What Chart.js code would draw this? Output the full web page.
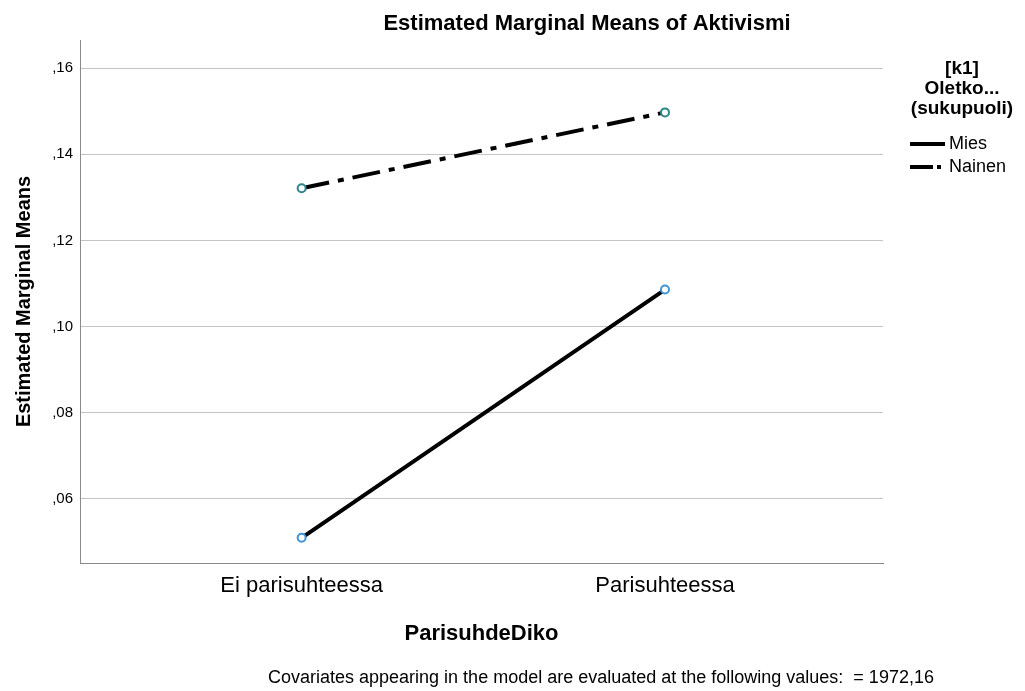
<!DOCTYPE html>
<html>
<head>
<meta charset="utf-8">
<script src="https://cdn.jsdelivr.net/npm/chart.js@4/dist/chart.umd.min.js"></script>
<style>
  html, body { margin: 0; padding: 0; background: #fff; }
  #wrap { width: 1025px; height: 691px; }
</style>
</head>
<body>
<div id="wrap"><canvas id="emmChart" width="1025" height="691"></canvas></div>
<script>
// Data
const categories = ['Ei parisuhteessa', 'Parisuhteessa'];
const seriesNames = ['Mies', 'Nainen'];
const miesValues = [0.0510, 0.1086];
const nainenValues = [0.1321, 0.1497];
const yTickValues = [0.06, 0.08, 0.10, 0.12, 0.14, 0.16];
const yTickLabels = [',06', ',08', ',10', ',12', ',14', ',16'];

const FONT = "'Liberation Sans', Arial, sans-serif";

const toPoints = vals => vals.map((v, i) => ({ x: i, y: v }));

// Title, legend and footnote drawn by hand to sit where SPSS puts them
const extras = {
    id: 'extras',
    afterDraw(chart) {
        const c = chart.ctx;
        c.save();
        c.fillStyle = '#000';
        c.textBaseline = 'middle';

        c.font = 'bold 22px ' + FONT;
        c.textAlign = 'center';
        c.fillText('Estimated Marginal Means of Aktivismi', 587, 24);

        c.font = 'bold 19px ' + FONT;
        ['[k1]', 'Oletko...', '(sukupuoli)'].forEach((t, i) => {
            c.fillText(t, 962, 69 + i * 20);
        });

        c.font = '18px ' + FONT;
        c.textAlign = 'left';
        chart.data.datasets.forEach((ds, i) => {
            const y = 144 + i * 23;
            c.strokeStyle = '#000';
            c.lineWidth = 4;
            if (ds.borderDash.length) {
                c.beginPath(); c.moveTo(910, y); c.lineTo(933, y); c.stroke();
                c.beginPath(); c.moveTo(937, y); c.lineTo(941, y); c.stroke();
            } else {
                c.beginPath(); c.moveTo(910, y); c.lineTo(945, y); c.stroke();
            }
            c.fillText(ds.label, 949, y);
        });

        c.font = '18px ' + FONT;
        c.fillText('Covariates appearing in the model are evaluated at the following values:  = 1972,16', 268, 678);
        c.restore();
    }
};

new Chart(document.getElementById('emmChart'), {
    type: 'line',
    data: {
        datasets: [
            {
                label: seriesNames[0],
                data: toPoints(miesValues),
                borderColor: '#000',
                borderWidth: 4,
                borderDash: [],
                pointRadius: 4,
                pointBorderWidth: 2,
                pointBorderColor: '#3f93d8',
                pointBackgroundColor: '#ffffff'
            },
            {
                label: seriesNames[1],
                data: toPoints(nainenValues),
                borderColor: '#000',
                borderWidth: 4,
                borderDash: [28, 9, 6, 9],
                pointRadius: 4,
                pointBorderWidth: 2,
                pointBorderColor: '#2f8589',
                pointBackgroundColor: '#ffffff'
            }
        ]
    },
    options: {
        responsive: false,
        animation: false,
        layout: { padding: { top: 40, right: 142, bottom: 0, left: 0 } },
        plugins: {
            legend: { display: false },
            tooltip: { enabled: false }
        },
        scales: {
            x: {
                type: 'linear',
                min: -0.61,
                max: 1.60,
                afterBuildTicks: s => { s.ticks = categories.map((_, i) => ({ value: i })); },
                afterFit: s => { s.height = 128; },
                grid: { display: false, drawTicks: false },
                border: { display: true, color: '#8a8a8a', width: 1 },
                ticks: {
                    padding: 10,
                    color: '#000',
                    font: { family: FONT, size: 22 },
                    callback: v => categories[v]
                },
                title: {
                    display: true,
                    text: 'ParisuhdeDiko',
                    color: '#000',
                    font: { family: FONT, size: 22, weight: 'bold' },
                    padding: { top: 0, bottom: 44 }
                }
            },
            y: {
                min: 0.04515,
                max: 0.1665,
                afterBuildTicks: s => { s.ticks = yTickValues.map(v => ({ value: v })); },
                afterFit: s => { s.width = 80; },
                grid: { color: '#c4c4c4', drawTicks: false },
                border: { display: true, color: '#8a8a8a', width: 1 },
                ticks: {
                    padding: 7,
                    color: '#000',
                    font: { family: FONT, size: 15 },
                    callback: v => yTickLabels[yTickValues.findIndex(t => Math.abs(t - v) < 1e-9)]
                },
                title: {
                    display: true,
                    text: 'Estimated Marginal Means',
                    color: '#000',
                    font: { family: FONT, size: 20, weight: 'bold' },
                    padding: { top: 12, bottom: 0 }
                }
            }
        }
    },
    plugins: [extras]
});
</script>
</body>
</html>
